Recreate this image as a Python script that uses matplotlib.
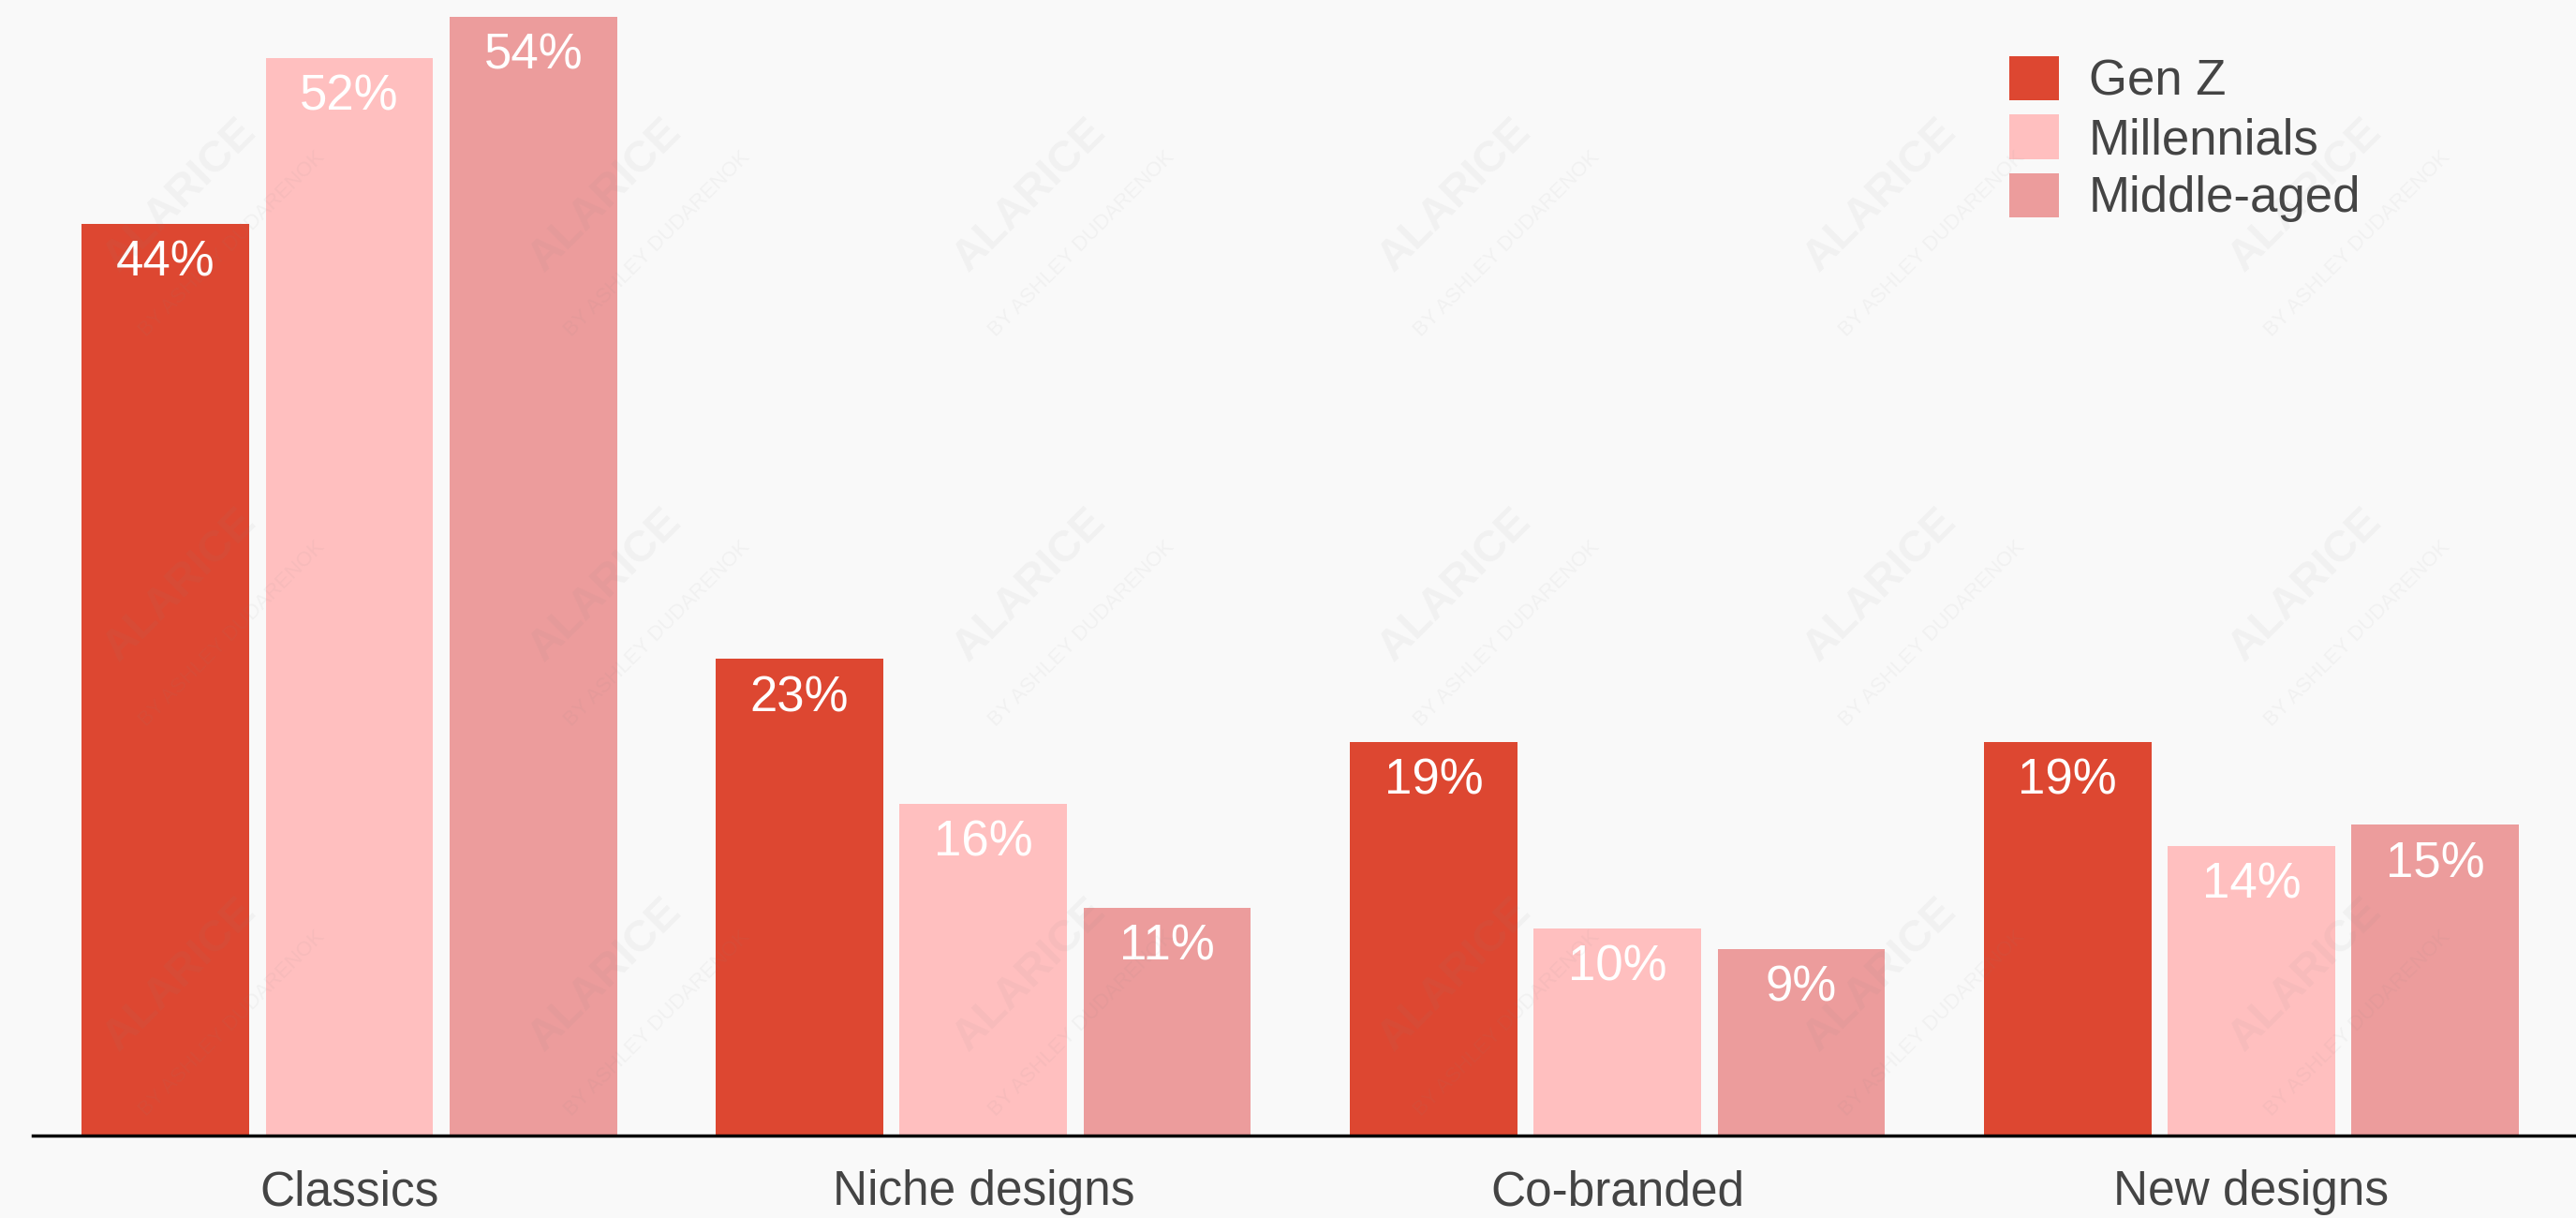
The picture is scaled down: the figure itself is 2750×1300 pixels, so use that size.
import matplotlib
matplotlib.use("Agg")
import matplotlib.pyplot as plt
import numpy as np

# data
categories = ["Classics", "Niche designs", "Co-branded", "New designs"]
series_names = ["Gen Z", "Millennials", "Middle-aged"]
gen_z = [44, 23, 19, 19]
millennials = [52, 16, 10, 14]
middle_aged = [54, 11, 9, 15]

colors = ["#dd4731", "#ffbfbf", "#ec9c9c"]
bg = "#f9f9f9"
text_color = "#444444"

plt.rcParams['font.family'] = ['Liberation Sans', 'DejaVu Sans']

fig = plt.figure(figsize=(27.5, 13), dpi=100, facecolor=bg)
ax = fig.add_axes([0.0128, 0.0675, 0.9872, 0.9325])
ax.set_facecolor(bg)

x = np.arange(len(categories))
pitch = 0.29
width = 0.264

for k, (name, vals) in enumerate(zip(series_names, [gen_z, millennials, middle_aged])):
    pos = x + (k - 1) * pitch
    bars = ax.bar(pos, vals, width=width, color=colors[k], label=name, zorder=2)
    for b, v in zip(bars, vals):
        ax.annotate(f"{v}%", xy=(b.get_x() + b.get_width() / 2, b.get_height()),
                    xytext=(0, -12), textcoords="offset points",
                    ha="center", va="top", color="white", fontsize=38, zorder=3)

ax.set_xlim(-0.499, 3.512)
ax.set_ylim(0, 54.8)
ax.set_xticks(x)
ax.set_xticklabels(categories, fontsize=37, color=text_color)
ax.tick_params(axis='x', length=0, pad=26)
ax.set_yticks([])
for s in ["top", "right", "left"]:
    ax.spines[s].set_visible(False)
ax.spines["bottom"].set_linewidth(2.5)
ax.spines["bottom"].set_color("black")
ax.spines["bottom"].set_zorder(4)

leg = ax.legend(loc="upper left", bbox_to_anchor=(0.7705, 0.974), bbox_transform=fig.transFigure,
                frameon=False, fontsize=38, handlelength=1.0, handleheight=1.0,
                handletextpad=0.6, labelspacing=0.18, borderpad=0)
for t in leg.get_texts():
    t.set_color(text_color)

# faint watermark, kept inside the figure
for i in range(6):
    for j in range(3):
        xf = 0.07 + i * 0.165
        yf = 0.2 + j * 0.32
        fig.text(xf, yf, "ALARICE", rotation=45, fontsize=34, color="#888888",
                 alpha=0.07, ha="center", va="center", fontweight="bold")
        fig.text(xf + 0.02, yf - 0.04, "BY ASHLEY DUDARENOK", rotation=45, fontsize=16,
                 color="#888888", alpha=0.07, ha="center", va="center")

fig.savefig("out.png", dpi=100, facecolor=bg)
